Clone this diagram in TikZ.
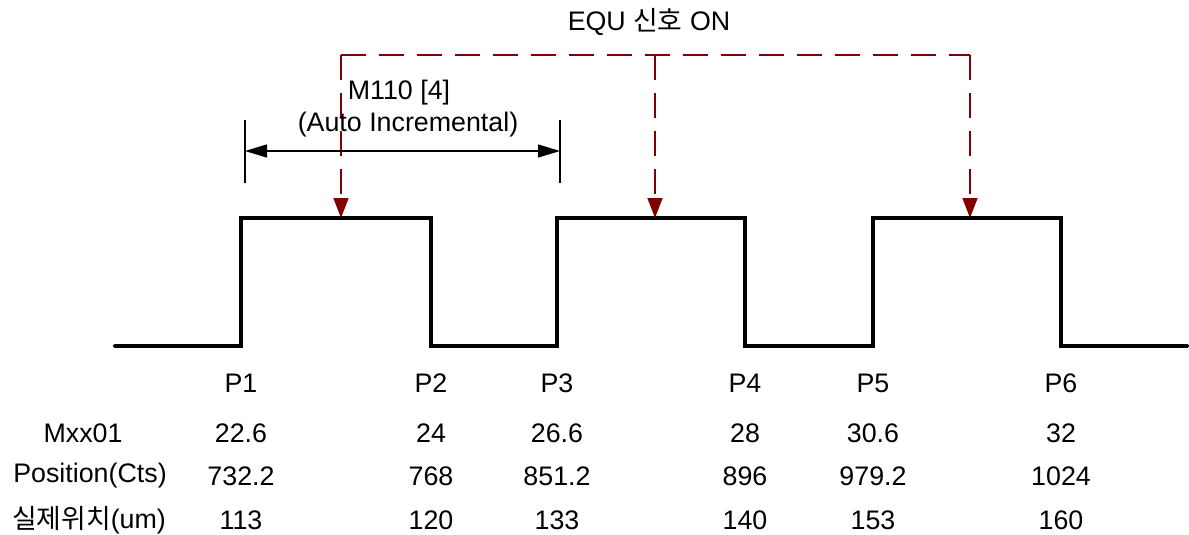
\documentclass[tikz,border=0pt]{standalone}
\usepackage{fontspec}
\setmainfont{Liberation Sans}
\newfontfamily\kr{Noto Sans CJK KR}
\usetikzlibrary{arrows.meta}
\definecolor{equred}{HTML}{800000}
\begin{document}
\begin{tikzpicture}[x=1pt,y=-1pt,
  every node/.style={inner sep=0pt,font=\fontsize{26.8}{30}\selectfont},
  wave/.style={line width=4pt,line cap=round,line join=miter},
  equline/.style={equred,line width=1.6pt,dash pattern=on 25pt off 13pt},
  equtip/.style={-{Triangle[width=15pt,length=20pt]}},
  dimline/.style={black,line width=1.4pt,{Triangle[width=13pt,length=22pt]}-{Triangle[width=13pt,length=22pt]}},
  tick/.style={black,line width=1.2pt},
  lbl/.style={anchor=center}]
\useasboundingbox (0,0) rectangle (1189,535);

% pulse train
\coordinate (w0) at (115,346);
\coordinate (p1) at (241,346); \coordinate (p1h) at (241,218);
\coordinate (p2h) at (431,218); \coordinate (p2) at (431,346);
\coordinate (p3) at (557,346); \coordinate (p3h) at (557,218);
\coordinate (p4h) at (745,218); \coordinate (p4) at (745,346);
\coordinate (p5) at (873,346); \coordinate (p5h) at (873,218);
\coordinate (p6h) at (1061,218); \coordinate (p6) at (1061,346);
\coordinate (w1) at (1187,346);
\draw[wave] (w0) -- (p1) -- (p1h) -- (p2h) -- (p2) -- (p3) -- (p3h) -- (p4h) -- (p4) -- (p5) -- (p5h) -- (p6h) -- (p6) -- (w1);

% EQU output trigger points
\coordinate (e1) at (341,218); \coordinate (e2) at (655,218); \coordinate (e3) at (970,218);
\coordinate (t1) at (341,55); \coordinate (t2) at (655,55); \coordinate (t3) at (970,55);
\draw[equline] (t1) -- (t3);
\draw[equline,equtip] (t1) -- (e1);
\draw[equline,equtip] (t2) -- (e2);
\draw[equline,equtip] (t3) -- (e3);
\node[lbl] (equ) at (649,22) {EQU {\kr 신호} ON};

% increment span
\coordinate (d1a) at (245,120); \coordinate (d1b) at (245,183);
\coordinate (d2a) at (560,120); \coordinate (d2b) at (560,183);
\coordinate (d1) at (245,151); \coordinate (d2) at (560,151);
\draw[tick] (d1a) -- (d1b);
\draw[tick] (d2a) -- (d2b);
\draw[dimline] (d1) -- (d2);
\node[lbl] (m110) at (399,93) {M110 [4]};
\node[lbl] (auto) at (408,125) {(Auto Incremental)};

% point labels
\foreach \n/\x/\p/\m/\c/\u in {1/241/P1/22.6/732.2/113, 2/431/P2/24/768/120, 3/557/P3/26.6/851.2/133,
  4/745/P4/28/896/140, 5/873/P5/30.6/979.2/153, 6/1061/P6/32/1024/160}{
  \node[lbl] (P\n) at (\x,383) {\p};
  \node[lbl] (M\n) at (\x,433) {\m};
  \node[lbl] (C\n) at (\x,476) {\c};
  \node[lbl] (U\n) at (\x,520) {\u};
}

% row headings
\node[lbl] (hm) at (83,433) {Mxx01};
\node[lbl] (hc) at (90,476) {Position(Cts)};
\node[lbl] (hu) at (89,520) {{\kr 실제위치}(um)};
\end{tikzpicture}
\end{document}
